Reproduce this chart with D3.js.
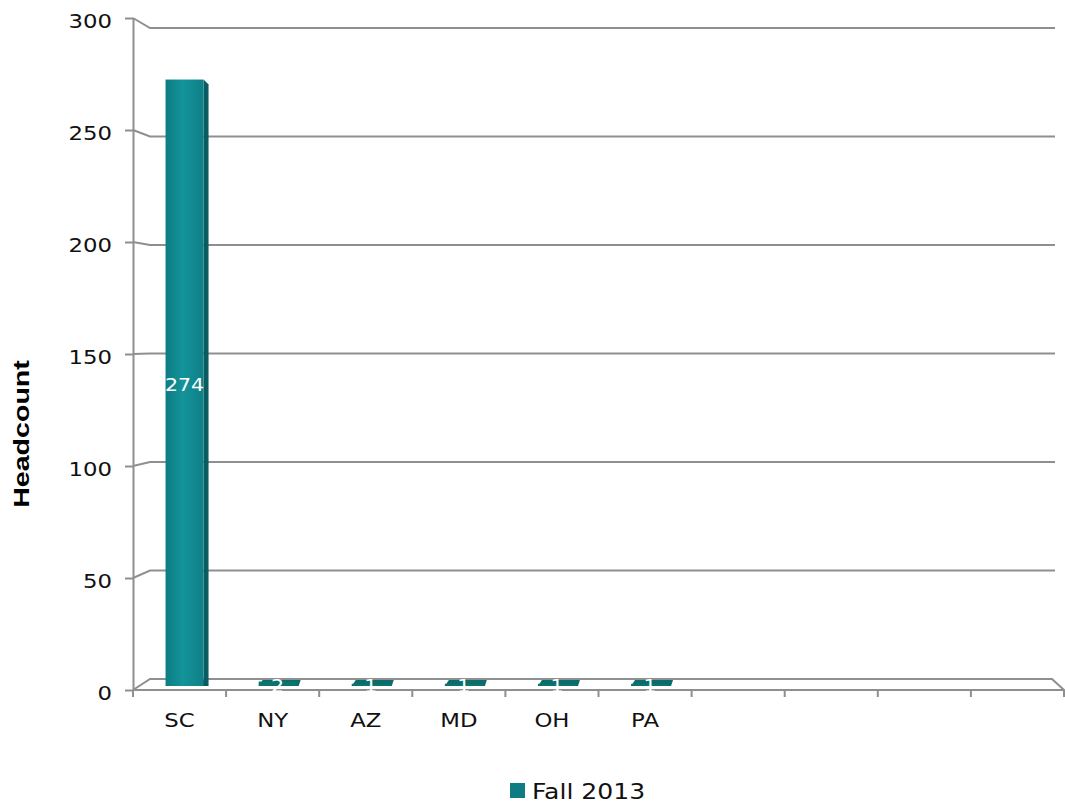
<!DOCTYPE html>
<html>
<head>
<meta charset="utf-8">
<script src="https://cdn.jsdelivr.net/npm/d3@7/dist/d3.min.js"></script>
<style>
  html, body { margin: 0; padding: 0; background: #fff; }
  svg { display: block; }
</style>
</head>
<body>
<svg id="chart" width="1065" height="806"></svg>
<script>
// ---- data ----
const categories = ["SC", "NY", "AZ", "MD", "OH", "PA"];
const emptySlots = 4;
const values = [274, 2, 1, 1, 1, 1];
const yTicks = [0, 50, 100, 150, 200, 250, 300];
const seriesName = "Fall 2013";
const axisTitle = "Headcount";

// ---- layout ----
const W = 1065, H = 806;
const axisX = 133, frontBottom = 690, frontTop = 18;
const backX0 = 150, backX1 = 1055, backBottom = 679, backTop = 28;
const floorRight = 1064, floorBackRight = 1052;
const sx = 1.14; // horizontal text stretch
const gridColor = "#8f8f8f";

const svg = d3.select("#chart");
const slots = d3.range(categories.length + emptySlots);

const x = d3.scaleBand().domain(slots).range([axisX, floorRight]);
const yFront = d3.scaleLinear().domain([0, 300]).range([frontBottom, frontTop]);
const yBack = d3.scaleLinear().domain([0, 300]).range([backBottom, backTop]);
const yBar = d3.scaleLinear().domain([0, 300]).range([686, 22]);

// defs: bar gradient
const defs = svg.append("defs");
const g1 = defs.append("linearGradient").attr("id", "barFront").attr("x1", "0").attr("x2", "1").attr("y1", "0").attr("y2", "0");
g1.append("stop").attr("offset", "0").attr("stop-color", "#0c7c82");
g1.append("stop").attr("offset", "0.45").attr("stop-color", "#14939a");
g1.append("stop").attr("offset", "1").attr("stop-color", "#0e8087");

// back wall gridlines with diagonal connectors
const grid = svg.append("g");
grid.selectAll("path.grid").data(yTicks.filter(d => d > 0)).join("path")
  .attr("fill", "none").attr("stroke", gridColor).attr("stroke-width", 2)
  .attr("d", d => `M${axisX},${yFront(d)} L${backX0},${yBack(d)} L${backX1},${yBack(d)}`);

// floor
svg.append("path")
  .attr("fill", "none").attr("stroke", gridColor).attr("stroke-width", 2)
  .attr("d", `M${axisX},${yFront(0)} L${backX0},${yBack(0)} L${floorBackRight},${yBack(0)} L${floorRight},${yFront(0)} L${axisX},${yFront(0)}`);

// y axis
const yAxis = svg.append("g").attr("transform", `translate(${axisX},0)`)
  .call(d3.axisLeft(yFront).tickValues(yTicks).tickSize(8).tickSizeOuter(0));
yAxis.select(".domain").attr("stroke", gridColor).attr("stroke-width", 2);
yAxis.selectAll(".tick line").attr("stroke", gridColor).attr("stroke-width", 2);
yAxis.selectAll(".tick text")
  .attr("x", 0).attr("dy", "0.47em")
  .attr("transform", `translate(-21,0) scale(${sx},1)`)
  .attr("font-family", "DejaVu Sans").attr("font-size", 20).attr("fill", "#111");

// x axis boundary ticks
svg.append("g").selectAll("line").data(slots.concat([slots.length])).join("line")
  .attr("x1", d => d < slots.length ? x(d) : x.range()[1])
  .attr("x2", d => d < slots.length ? x(d) : x.range()[1])
  .attr("y1", frontBottom).attr("y2", frontBottom + 7)
  .attr("stroke", gridColor).attr("stroke-width", 2);

// x labels via axis (no ticks)
const xAxis = svg.append("g").attr("transform", `translate(0,${frontBottom})`)
  .call(d3.axisBottom(x).tickSize(0).tickFormat(i => categories[i] || ""));
xAxis.select(".domain").remove();
xAxis.selectAll(".tick text")
  .attr("y", 0).attr("dy", 0)
  .attr("transform", `translate(0,37) scale(${sx},1)`)
  .attr("font-family", "DejaVu Sans").attr("font-size", 20).attr("fill", "#111");

// bars
const barW = 38, side = 5, shift = 5, depth = 6;
const bars = svg.append("g");
const data = categories.map((c, i) => ({ i, c, v: values[i] }));
data.forEach(d => {
  const cx = x(d.i) + x.bandwidth() / 2 + shift;
  const x0 = cx - barW / 2, x1 = cx + barW / 2;
  const yt = yBar(d.v), yb = yBar(0);
  // footprint slab on the floor (visible for short bars)
  bars.append("path")
    .attr("fill", "#0b6c6a")
    .attr("d", `M${x0},${yb} L${x1 + 2},${yb} L${x1 + 4},${yb - depth} L${x0 + 4},${yb - depth} Z`);
  if (d.v > 10) {
    bars.append("path")
      .attr("fill", "#0a5c62")
      .attr("d", `M${x1},${yt} L${x1 + side},${yt + side} L${x1 + side},${yb} L${x1},${yb} Z`);
  }
  bars.append("rect")
    .attr("x", x0).attr("y", yt).attr("width", barW).attr("height", Math.max(yb - yt, 0))
    .attr("fill", d.v > 10 ? "url(#barFront)" : "#0c7470");
  // label
  const ly = d.v > 10 ? (yt + yb) / 2 + 8 : yb + 6;
  bars.append("text")
    .attr("transform", `translate(${cx},${ly}) scale(${sx},1)`)
    .attr("text-anchor", "middle")
    .attr("font-family", "DejaVu Sans").attr("font-size", 18).attr("fill", "#fff")
    .text(d.v);
});

// axis title
svg.append("text")
  .attr("transform", `translate(29,434) rotate(-90) scale(1.3,1)`)
  .attr("text-anchor", "middle")
  .attr("font-family", "Liberation Sans").attr("font-weight", "bold").attr("font-size", 22)
  .attr("fill", "#000").text(axisTitle);

// legend
const lg = svg.append("g");
lg.append("rect").attr("x", 510).attr("y", 783).attr("width", 15).attr("height", 15).attr("fill", "#0f7b82");
lg.append("text")
  .attr("transform", `translate(532,799) scale(${sx},1)`)
  .attr("font-family", "DejaVu Sans").attr("font-size", 22).attr("fill", "#111")
  .text(seriesName);
</script>
</body>
</html>
